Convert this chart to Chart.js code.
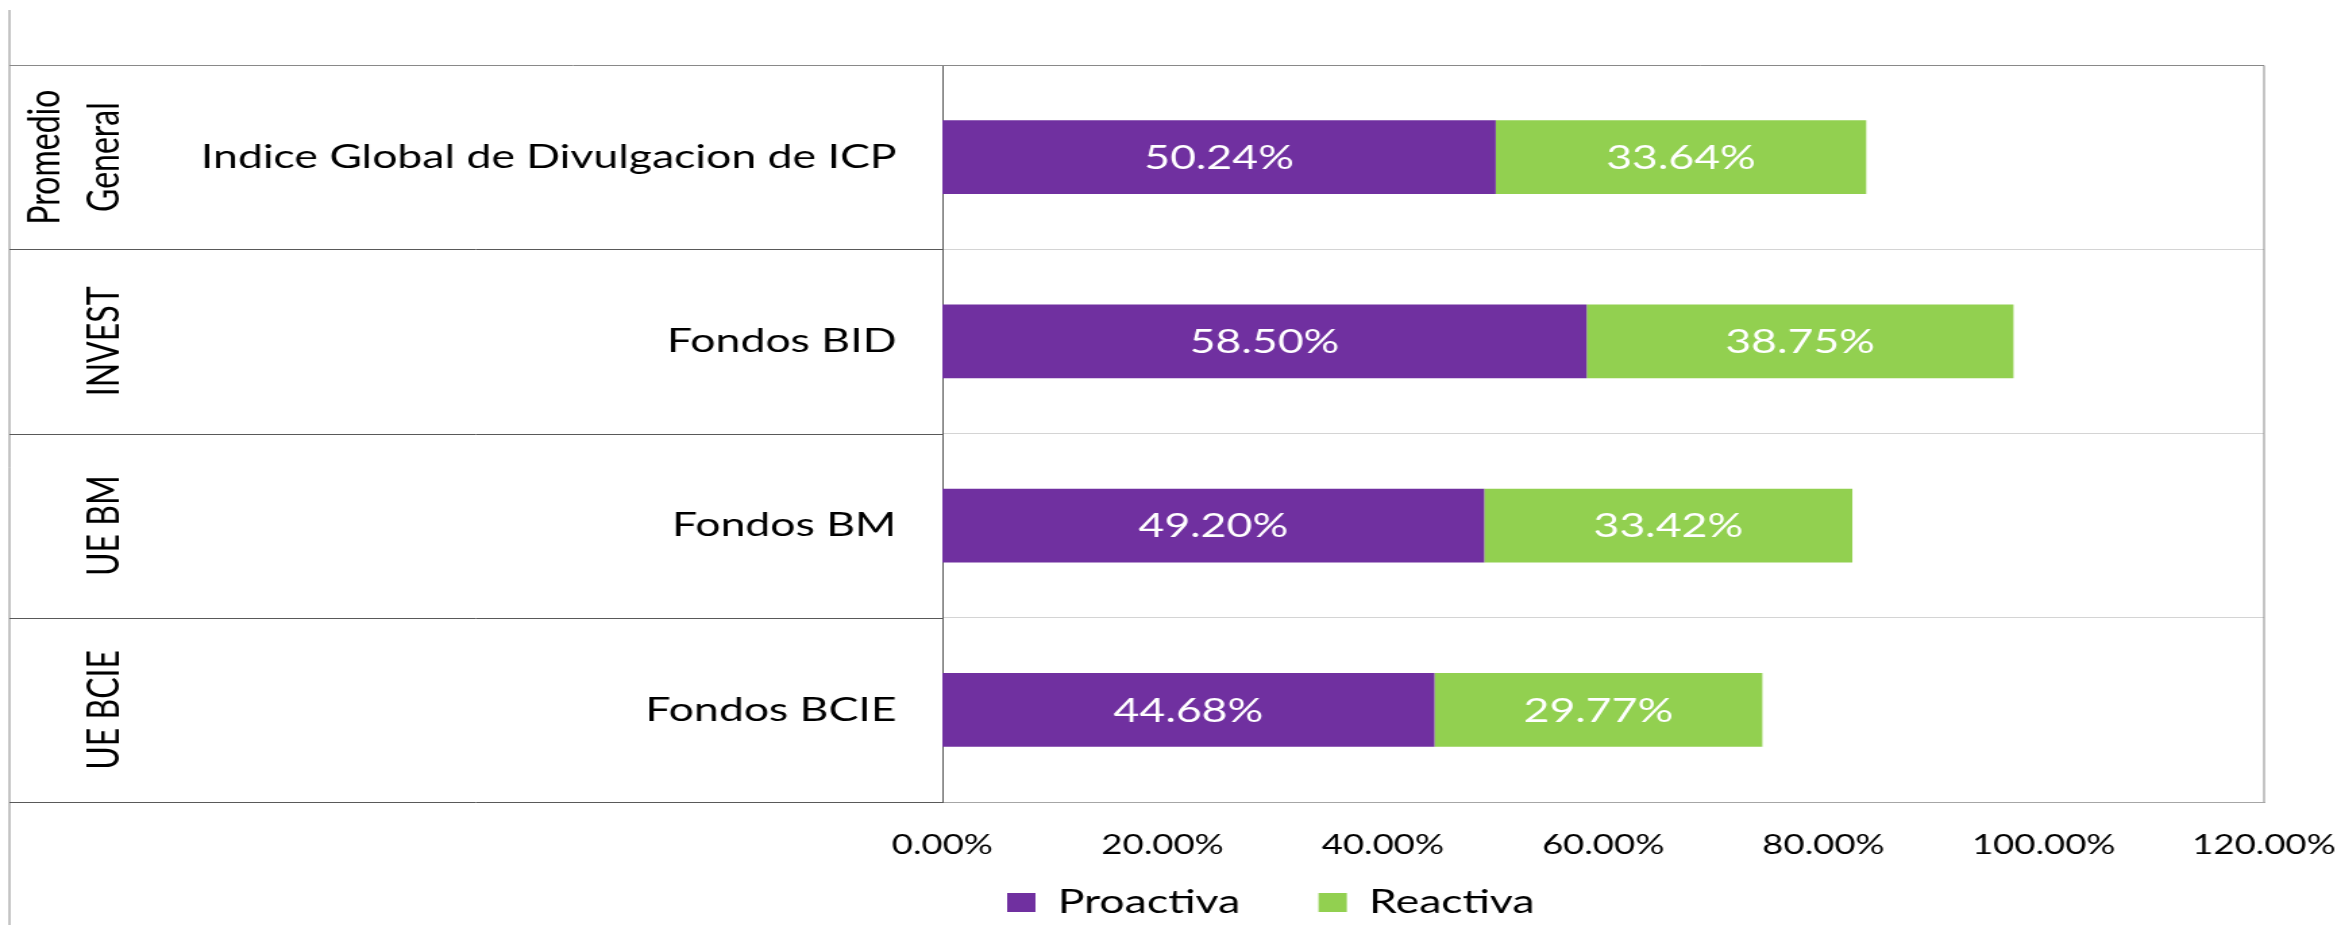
<!DOCTYPE html>
<html>
<head>
<meta charset="utf-8">
<script src="https://cdn.jsdelivr.net/npm/chart.js@4/dist/chart.umd.min.js"></script>
<style>
  html, body { margin: 0; padding: 0; background: #fff; overflow: hidden; }
  /* the reference picture is stretched sideways, so the chart is drawn narrow and widened */
  #wrap { width: 1734px; height: 925px; transform: scaleX(1.35006); transform-origin: 0 0; }
</style>
</head>
<body>
<div id="wrap"><canvas id="chart"></canvas></div>
<script>
// Data
const categories = ['Indice Global de Divulgacion de ICP', 'Fondos BID', 'Fondos BM', 'Fondos BCIE'];
const groups     = [['Promedio', 'General'], ['INVEST'], ['UE BM'], ['UE BCIE']];
const proactiva  = [0.5024, 0.5850, 0.4920, 0.4468];
const reactiva   = [0.3364, 0.3875, 0.3342, 0.2977];
const xTicks     = [0, 0.2, 0.4, 0.6, 0.8, 1.0, 1.2];

const COLOURS = {
  proactiva: '#7030A0',
  reactiva:  '#92D050',
  grid:      '#d4d4d4',
  frame:     '#898989',
  table:     '#595959',
};

const FONT = 'Lato, "Open Sans", sans-serif';
const pct = v => (v * 100).toFixed(2) + '%';

Chart.defaults.color = '#000';
Chart.defaults.font.family = FONT;

// Bar value labels, white, centred in each segment
const valueLabels = {
  id: 'valueLabels',
  afterDatasetsDraw(chart) {
    const ctx = chart.ctx;
    ctx.save();
    ctx.fillStyle = '#fff';
    ctx.font = `33px ${FONT}`;
    ctx.textAlign = 'center';
    ctx.textBaseline = 'middle';
    chart.data.datasets.forEach((ds, i) => {
      chart.getDatasetMeta(i).data.forEach((bar, j) => {
        const { x, base, y } = bar.getProps(['x', 'base', 'y'], true);
        ctx.fillText(pct(ds.data[j]), (x + base) / 2, y + 1);
      });
    });
    ctx.restore();
  },
};

// Excel-style two level category axis: table lines + rotated group names
const groupAxis = {
  id: 'groupAxis',
  afterLayout(chart) {
    // legend sits under the middle of the chart in the reference
    const lg = chart.legend;
    const shift = 746 - lg.options.labels.padding - lg.left;
    lg.left += shift;
    lg.right += shift;
    lg.top += 4;
    lg.bottom += 4;
    // let the x tick labels run down into the legend band (they are clipped to the scale box)
    chart.scales.x.bottom = chart.height;
  },
  afterDraw(chart) {
    const ctx = chart.ctx;
    const area = chart.chartArea;
    const yScale = chart.scales.y;
    const n = categories.length;
    const step = (area.bottom - area.top) / n;
    const leftEdge = 7;

    ctx.save();
    ctx.lineWidth = 1;

    // outer left line
    ctx.strokeStyle = COLOURS.frame;
    ctx.beginPath();
    ctx.moveTo(leftEdge, 10);
    ctx.lineTo(leftEdge, chart.height);
    ctx.stroke();

    // top + right frame
    ctx.beginPath();
    ctx.moveTo(leftEdge, area.top + 0.5);
    ctx.lineTo(area.right, area.top + 0.5);
    ctx.lineTo(area.right, area.bottom);
    ctx.stroke();

    // table lines between categories
    ctx.strokeStyle = COLOURS.table;
    for (let i = 1; i <= n; i++) {
      const y = Math.round(area.top + i * step) + 0.5;
      ctx.beginPath();
      ctx.moveTo(leftEdge, y);
      ctx.lineTo(area.left, y);
      ctx.stroke();
    }

    // rotated group names
    ctx.fillStyle = '#000';
    ctx.font = `32px ${FONT}`;
    ctx.textAlign = 'center';
    ctx.textBaseline = 'middle';
    groups.forEach((lines, i) => {
      const cy = yScale.getPixelForValue(i);
      lines.forEach((txt, k) => {
        const cx = 78 - (lines.length - 1 - k) * 44;
        ctx.save();
        ctx.translate(cx, cy);
        ctx.rotate(-Math.PI / 2);
        ctx.fillText(txt, 0, 0);
        ctx.restore();
      });
    });

    ctx.restore();
  },
};

new Chart(document.getElementById('chart'), {
  type: 'bar',
  data: {
    labels: categories,
    datasets: [
      { label: 'Proactiva', data: proactiva, backgroundColor: COLOURS.proactiva },
      { label: 'Reactiva',  data: reactiva,  backgroundColor: COLOURS.reactiva },
    ],
  },
  options: {
    indexAxis: 'y',
    responsive: true,
    maintainAspectRatio: false,
    animation: false,
    layout: { padding: { top: 65, right: 57, left: 0, bottom: 0 } },
    datasets: { bar: { categoryPercentage: 1, barPercentage: 0.4, borderWidth: 0 } },
    plugins: {
      tooltip: { enabled: false },
      legend: {
        position: 'bottom',
        align: 'start',
        labels: {
          boxWidth: 21,
          boxHeight: 19,
          padding: 58,
          font: { size: 33, family: FONT },
          color: '#000',
        },
      },
    },
    scales: {
      x: {
        stacked: true,
        min: 0,
        max: 1.2,
        afterBuildTicks(scale) { scale.ticks = xTicks.map(v => ({ value: v })); },
        afterFit(scale) {
          scale.height = 22;
          scale.paddingLeft = 0;
          scale.paddingRight = 0;
        },
        grid: { display: false },
        border: { display: true, color: '#a6a6a6' },
        ticks: {
          padding: 19,
          autoSkip: false,
          font: { size: 27, family: FONT },
          color: '#000',
          maxRotation: 0,
          callback: v => pct(v),
        },
      },
      y: {
        stacked: true,
        afterFit(scale) { scale.width = 698; },
        grid: { color: COLOURS.grid, drawTicks: false, offset: true },
        border: { display: true, color: COLOURS.table },
        ticks: {
          padding: 34,
          font: { size: 33, family: FONT },
          color: '#000',
        },
      },
    },
  },
  plugins: [valueLabels, groupAxis],
});
</script>
</body>
</html>
